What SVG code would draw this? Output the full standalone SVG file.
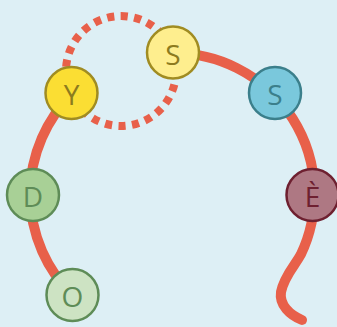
<svg xmlns="http://www.w3.org/2000/svg" width="337" height="327" viewBox="0 0 337 327">
<style>
.line{fill:none;stroke:#E8604A;stroke-width:10;stroke-linecap:round}
.dot{fill:none;stroke:#E8604A;stroke-width:8;stroke-dasharray:7.2 6.4}
.lbl{font-family:"Open Sans","Noto Sans",sans-serif;font-size:28px;text-anchor:middle;dominant-baseline:central}
circle.n{stroke-width:2.5}
</style>
<rect width="337" height="327" fill="#DDEFF5"/>
<g id="connectors">
<path class="line" d="M72.5 295 A141 141 0 0 1 72 94"/>
<path class="line" d="M173 53 A141 141 0 0 1 300.8 254.6 C296 264 284 276 281 292 C279 305 290 315 302 320"/>
<circle class="dot" cx="121" cy="71" r="55"/>
</g>
<g id="node-Y"><circle class="n" cx="71.5" cy="93" r="26" fill="#FBDE33" stroke="#A08C22"/><text class="lbl" x="71.5" y="94" fill="#8D7B1E">Y</text></g>
<g id="node-S1"><circle class="n" cx="173" cy="52.5" r="26" fill="#FEEE8E" stroke="#A08C22"/><text class="lbl" x="173" y="53.5" fill="#8D7B1E">S</text></g>
<g id="node-S2"><circle class="n" cx="275" cy="93" r="26" fill="#7AC8DC" stroke="#3B7F8B"/><text class="lbl" x="275" y="94" fill="#3B7F8B">S</text></g>
<g id="node-E"><circle class="n" cx="312.5" cy="195" r="26" fill="#AE7883" stroke="#6E2030"/><text class="lbl" x="312.5" y="196" fill="#6E2030">È</text></g>
<g id="node-D"><circle class="n" cx="33" cy="195" r="26" fill="#A8D096" stroke="#5E8C57"/><text class="lbl" x="33" y="196" fill="#5E8C57">D</text></g>
<g id="node-O"><circle class="n" cx="72.5" cy="295" r="26" fill="#CDE3C3" stroke="#5E8C57"/><text class="lbl" x="72.5" y="296" fill="#5E8C57">O</text></g>
</svg>
